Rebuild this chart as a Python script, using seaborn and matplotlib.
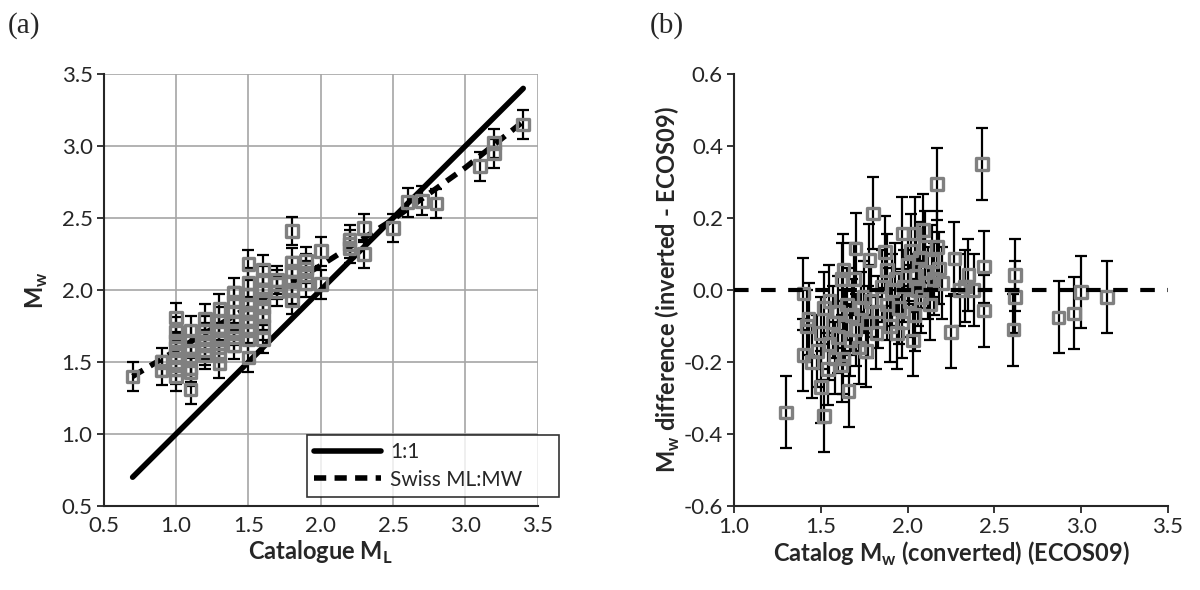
import numpy as np
import pandas as pd
import matplotlib
matplotlib.use("Agg")
import matplotlib.pyplot as plt
from matplotlib.ticker import MultipleLocator, FormatStrFormatter
from matplotlib.lines import Line2D
import seaborn as sns

# ---- panel (a): catalogue ML vs inverted Mw ----
left_ml = [0.7, 0.9, 0.9,
           1.0, 1.0, 1.0, 1.0, 1.0, 1.0, 1.0, 1.0,
           1.1, 1.1, 1.1, 1.1, 1.1, 1.1, 1.1,
           1.2, 1.2, 1.2, 1.2, 1.2, 1.2,
           1.3, 1.3, 1.3, 1.3, 1.3, 1.3, 1.3,
           1.4, 1.4, 1.4, 1.4, 1.4, 1.4, 1.4,
           1.5, 1.5, 1.5, 1.5, 1.5, 1.5, 1.5, 1.5, 1.5,
           1.6, 1.6, 1.6, 1.6, 1.6, 1.6, 1.6, 1.6,
           1.7, 1.7, 1.7,
           1.8, 1.8, 1.8, 1.8, 1.8, 1.8,
           1.9, 1.9, 1.9, 1.9,
           2.0, 2.0,
           2.2, 2.2, 2.2,
           2.3, 2.3,
           2.5, 2.6, 2.7, 2.8, 3.1, 3.2, 3.2, 3.4]
left_mw = [1.40, 1.50, 1.44,
           1.81, 1.71, 1.65, 1.60, 1.55, 1.50, 1.45, 1.40,
           1.72, 1.65, 1.58, 1.52, 1.46, 1.43, 1.31,
           1.80, 1.72, 1.67, 1.62, 1.58, 1.55,
           1.87, 1.78, 1.72, 1.66, 1.60, 1.55, 1.49,
           1.98, 1.92, 1.85, 1.78, 1.72, 1.67, 1.62,
           2.18, 2.05, 1.97, 1.90, 1.84, 1.78, 1.72, 1.66, 1.53,
           2.14, 2.07, 2.00, 1.94, 1.88, 1.82, 1.75, 1.66,
           2.07, 2.04, 1.99,
           2.41, 2.19, 2.13, 2.06, 2.00, 1.93,
           2.20, 2.15, 2.10, 2.05,
           2.27, 2.04,
           2.35, 2.32, 2.29,
           2.43, 2.25,
           2.43, 2.61, 2.62, 2.60, 2.86, 3.02, 2.95, 3.15]
err_mw = 0.1

one_to_one = [0.7, 3.4]
swiss_ml = [0.7, 1.0, 1.5, 2.0, 2.5, 3.0, 3.4]
swiss_mw = [1.40, 1.58, 1.88, 2.17, 2.49, 2.85, 3.17]

# ---- panel (b): converted catalogue Mw vs difference ----
right_mw = [1.30, 1.40, 1.42, 1.40, 1.43, 1.45, 1.48, 1.50, 1.52, 1.50,
            1.52, 1.54, 1.55, 1.55, 1.57, 1.58, 1.60, 1.60, 1.62, 1.62,
            1.63, 1.63, 1.64, 1.65, 1.66, 1.67, 1.68, 1.69, 1.70, 1.70,
            1.72, 1.73, 1.75, 1.76, 1.77, 1.78, 1.79, 1.80, 1.82, 1.83,
            1.85, 1.87, 1.88, 1.88, 1.90, 1.91, 1.93, 1.94, 1.95, 1.97,
            1.97, 1.98, 2.00, 2.01, 2.02, 2.03, 2.04, 2.04, 2.05, 2.06,
            2.07, 2.08, 2.09, 2.10, 2.10, 2.12, 2.13, 2.14, 2.15, 2.17,
            2.17, 2.18, 2.20, 2.25, 2.27, 2.30, 2.33, 2.35, 2.38, 2.43,
            2.44, 2.44, 2.61, 2.62, 2.62, 2.87, 2.96, 3.00, 3.15]
right_diff = [-0.34, -0.01, -0.10, -0.18, -0.08, -0.20, -0.17, -0.27, -0.35, -0.12,
              -0.05, -0.22, -0.03, -0.15, -0.09, -0.19, -0.13, -0.06, 0.03, -0.21,
              0.056, -0.19, -0.10, -0.04, -0.28, -0.14, -0.07, 0.03, 0.115, -0.11,
              -0.16, -0.05, -0.02, -0.17, -0.09, 0.083, -0.03, 0.213, -0.12, -0.06,
              0.01, 0.106, 0.056, -0.04, -0.10, 0.00, 0.03, -0.12, -0.05, 0.157,
              -0.09, 0.01, 0.069, -0.03, 0.11, -0.14, 0.157, -0.07, 0.04, 0.00,
              0.09, -0.02, 0.167, 0.12, 0.05, 0.02, -0.04, 0.08, 0.03, 0.295,
              0.12, 0.06, 0.02, -0.116, 0.088, 0.00, 0.01, 0.042, 0.00, 0.35,
              0.065, -0.057, -0.11, 0.042, -0.02, -0.076, -0.065, -0.005, -0.02]
err_diff = 0.1

df_a = pd.DataFrame({"ml": left_ml, "mw": left_mw})
df_b = pd.DataFrame({"mw": right_mw, "diff": right_diff})

sns.set_style("ticks")
plt.rcParams["font.family"] = ["Lato", "DejaVu Sans"]
plt.rcParams["mathtext.fontset"] = "custom"
plt.rcParams["mathtext.rm"] = "Lato"
plt.rcParams["mathtext.bf"] = "Lato:bold"
plt.rcParams["axes.unicode_minus"] = False

W, H = 1200, 590
fig = plt.figure(figsize=(12, 5.9), dpi=100)
ax1 = fig.add_axes([103.7 / W, 1 - 506 / H, 434 / W, 432 / H])
ax2 = fig.add_axes([734 / W, 1 - 506 / H, 434 / W, 432 / H])

GREY = "#808080"
marker_kw = dict(marker="s", s=70, facecolor="none", edgecolor=GREY,
                 linewidth=2.4, zorder=4, legend=False)
DASH = (0, (2.2, 1.5))

# ---- panel (a) ----
ax1.grid(True, color="#a6a6a6", linewidth=1.2)
ax1.set_axisbelow(True)
sns.lineplot(x=one_to_one, y=one_to_one, color="black", linewidth=4,
             ax=ax1, zorder=2)
sns.lineplot(x=swiss_ml, y=swiss_mw, color="black", linewidth=4,
             linestyle=DASH, ax=ax1, zorder=2)
ax1.errorbar(df_a["ml"], df_a["mw"], yerr=err_mw, fmt="none", ecolor="black",
             elinewidth=1.6, capsize=4.5, capthick=1.6, zorder=3)
sns.scatterplot(data=df_a, x="ml", y="mw", ax=ax1, **marker_kw)

ax1.set_xlim(0.5, 3.5)
ax1.set_ylim(0.5, 3.5)
ax1.xaxis.set_major_locator(MultipleLocator(0.5))
ax1.yaxis.set_major_locator(MultipleLocator(0.5))
ax1.xaxis.set_major_formatter(FormatStrFormatter("%.1f"))
ax1.yaxis.set_major_formatter(FormatStrFormatter("%.1f"))
ax1.set_xlabel(r"Catalogue M$_\mathbf{L}$", fontsize=17, fontweight="bold", labelpad=2)
ax1.set_ylabel(r"M$_\mathbf{w}$", fontsize=17, fontweight="bold", labelpad=8)

handles = [Line2D([], [], color="black", linewidth=4),
           Line2D([], [], color="black", linewidth=4, linestyle=DASH)]
leg = ax1.legend(handles, ["1:1", "Swiss ML:MW"], loc="lower left",
                 bbox_to_anchor=(307 / W, 1 - 497 / H, 252 / W, 60 / H),
                 bbox_transform=fig.transFigure, mode="expand",
                 fontsize=15, frameon=True, fancybox=False, handlelength=3.2,
                 handletextpad=0.45, borderaxespad=0, borderpad=0.35,
                 labelspacing=0.35)
leg.get_frame().set_edgecolor("black")
leg.get_frame().set_linewidth(1.2)
leg.set_zorder(10)

# ---- panel (b) ----
ax2.axhline(0, color="black", linewidth=3, linestyle=(0, (3.5, 3)), zorder=5)
ax2.errorbar(df_b["mw"], df_b["diff"], yerr=err_diff, fmt="none", ecolor="black",
             elinewidth=1.6, capsize=4.5, capthick=1.6, zorder=3)
sns.scatterplot(data=df_b, x="mw", y="diff", ax=ax2, **marker_kw)

ax2.set_xlim(1.0, 3.5)
ax2.set_ylim(-0.6, 0.6)
ax2.xaxis.set_major_locator(MultipleLocator(0.5))
ax2.yaxis.set_major_locator(MultipleLocator(0.2))
ax2.xaxis.set_major_formatter(FormatStrFormatter("%.1f"))
ax2.yaxis.set_major_formatter(FormatStrFormatter("%.1f"))
ax2.set_xlabel(r"Catalog M$_\mathbf{w}$ (converted) (ECOS09)", fontsize=17,
               fontweight="bold", labelpad=2)
ax2.set_ylabel(r"M$_\mathbf{w}$ difference (inverted - ECOS09)", fontsize=17,
               fontweight="bold", labelpad=1)

for ax in (ax1, ax2):
    ax.spines["top"].set_visible(False)
    ax.spines["right"].set_visible(False)
    ax.spines["left"].set_linewidth(1.5)
    ax.spines["bottom"].set_linewidth(1.5)
    ax.tick_params(direction="out", length=5, width=1.3, labelsize=16, pad=3)
ax1.tick_params(axis="x", length=0, pad=7)

fig.text(8 / W, 1 - 26 / H, "(a)", fontsize=21, family="Liberation Serif",
         va="center", ha="left")
fig.text(650 / W, 1 - 26 / H, "(b)", fontsize=21, family="Liberation Serif",
         va="center", ha="left")

fig.savefig("out.png", dpi=100)
